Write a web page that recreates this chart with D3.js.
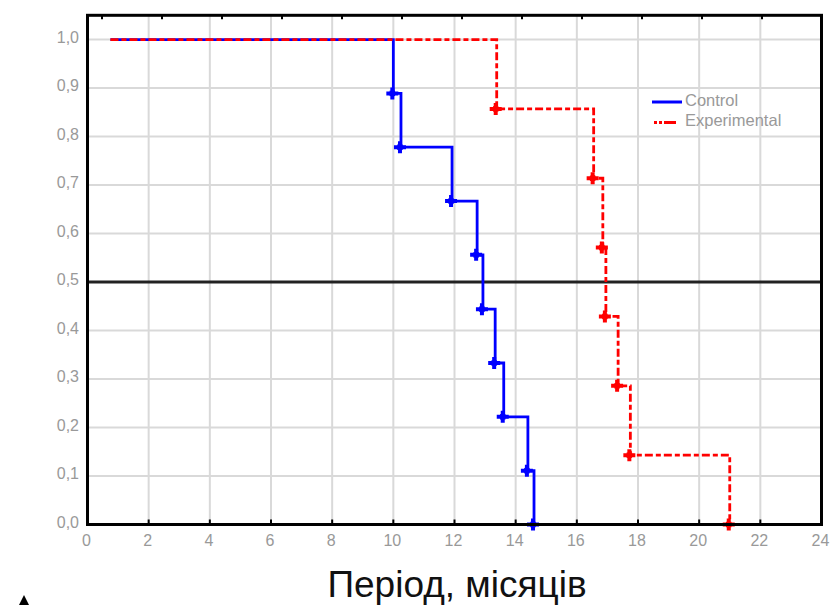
<!DOCTYPE html>
<html>
<head>
<meta charset="utf-8">
<script src="https://cdn.jsdelivr.net/npm/d3@7"></script>
<style>
  html, body { margin: 0; padding: 0; background: #fff; }
  svg { display: block; }
  text { font-family: "Liberation Sans", Arial, sans-serif; }
</style>
</head>
<body>
<script>
// ---- data ----
const seriesNames = ["Control", "Experimental"];
const controlTimes = [0.75, 10.0, 10.25, 11.92, 12.74, 12.93, 13.33, 13.61, 14.4, 14.6];
const controlSurvival = [1.0, 0.889, 0.778, 0.667, 0.556, 0.444, 0.333, 0.222, 0.111, 0.0];
const experimentalTimes = [0.75, 13.38, 16.55, 16.85, 16.95, 17.35, 17.75, 21.0];
const experimentalSurvival = [1.0, 0.857, 0.714, 0.571, 0.429, 0.286, 0.143, 0.0];
const xTickValues = [0, 2, 4, 6, 8, 10, 12, 14, 16, 18, 20, 22, 24];
const yTickValues = [0.0, 0.1, 0.2, 0.3, 0.4, 0.5, 0.6, 0.7, 0.8, 0.9, 1.0];
const medianLevel = 0.5;
const xTitle = "Період, місяців";

// ---- layout ----
const W = 834, H = 605;
const mL = 87.5, mR = 821.5, mT = 15.3, mB = 524.5;

const svg = d3.select("body").append("svg").attr("width", W).attr("height", H);
svg.append("rect").attr("width", W).attr("height", H).attr("fill", "#fff");

const x = d3.scaleLinear().domain([0, 24]).range([mL, mR]);
const y = d3.scaleLinear().domain([0, 1.05]).range([mB, mT]);

// grid
const grid = svg.append("g");
grid.append("g").selectAll("line").data(xTickValues.slice(1, -1)).join("line")
  .attr("x1", d => x(d)).attr("x2", d => x(d))
  .attr("y1", mT).attr("y2", mB)
  .attr("stroke", "#d9d9d9").attr("stroke-width", 2);
grid.append("g").selectAll("line").data(yTickValues.slice(1)).join("line")
  .attr("x1", mL).attr("x2", mR)
  .attr("y1", d => y(d)).attr("y2", d => y(d))
  .attr("stroke", "#d9d9d9").attr("stroke-width", 2);

// median reference line
svg.append("line")
  .attr("x1", mL).attr("x2", mR)
  .attr("y1", y(medianLevel)).attr("y2", y(medianLevel))
  .attr("stroke", "#222").attr("stroke-width", 3);

// step lines
const line = d3.line().x(d => x(d[0])).y(d => y(d[1])).curve(d3.curveStepAfter);
const controlPts = controlTimes.map((t, i) => [t, controlSurvival[i]]);
const expPts = experimentalTimes.map((t, i) => [t, experimentalSurvival[i]]);

svg.append("path").datum(controlPts).attr("d", line)
  .attr("fill", "none").attr("stroke", "#0000ff").attr("stroke-width", 2.8);
svg.append("path").datum(expPts).attr("d", line)
  .attr("fill", "none").attr("stroke", "#ff0000").attr("stroke-width", 2.8)
  .attr("stroke-dasharray", "8,3,5,3");

// markers
const sym = d3.symbol().type(d3.symbolCross).size(80);
const sq = d3.symbol().type(d3.symbolSquare).size(30);
function drawMarkers(pts, color) {
  const g = svg.append("g");
  g.selectAll("path.c").data(pts).join("path").attr("class", "c")
    .attr("d", sym).attr("transform", d => `translate(${x(d[0]) - 1},${y(d[1])})`)
    .attr("fill", color);
  g.selectAll("path.s").data(pts).join("path").attr("class", "s")
    .attr("d", sq).attr("transform", d => `translate(${x(d[0]) - 1},${y(d[1])})`)
    .attr("fill", color);
}
drawMarkers(controlPts.slice(1), "#0000ff");
drawMarkers(expPts.slice(1), "#ff0000");

// frame
svg.append("rect")
  .attr("x", mL).attr("y", mT).attr("width", mR - mL).attr("height", mB - mT)
  .attr("fill", "none").attr("stroke", "#000").attr("stroke-width", 3);

// bottom ticks (inward)
svg.append("g").selectAll("line").data(xTickValues.slice(1, -1)).join("line")
  .attr("x1", d => x(d)).attr("x2", d => x(d))
  .attr("y1", mB).attr("y2", mB - 5)
  .attr("stroke", "#000").attr("stroke-width", 2);
// top ticks (secondary scale)
const xTop = d3.scaleLinear().domain([0, 12]).range([102, 822]);
svg.append("g").selectAll("line").data(d3.range(0, 12)).join("line")
  .attr("x1", d => xTop(d)).attr("x2", d => xTop(d))
  .attr("y1", mT).attr("y2", mT + 4)
  .attr("stroke", "#000").attr("stroke-width", 2);

// tick labels
const fmt = d => d3.format(".1f")(d).replace(".", ",");
svg.append("g").selectAll("text").data(yTickValues).join("text")
  .attr("x", 79).attr("y", d => y(d) + 3)
  .attr("text-anchor", "end").attr("font-size", 16).attr("fill", "#999")
  .text(fmt);
svg.append("g").selectAll("text").data(xTickValues).join("text")
  .attr("x", d => x(d) - 1).attr("y", 546)
  .attr("text-anchor", "middle").attr("font-size", 16).attr("fill", "#999")
  .text(d => d);

// axis title
svg.append("text").attr("x", 457).attr("y", 597)
  .attr("text-anchor", "middle").attr("font-size", 37).attr("fill", "#111")
  .text(xTitle);

// legend
const lg = svg.append("g");
lg.append("line").attr("x1", 652).attr("x2", 682).attr("y1", 102).attr("y2", 102)
  .attr("stroke", "#0000ff").attr("stroke-width", 3);
lg.append("line").attr("x1", 654).attr("x2", 677).attr("y1", 122.5).attr("y2", 122.5)
  .attr("stroke", "#ff0000").attr("stroke-width", 3).attr("stroke-dasharray", "3,2,3,2,12");
lg.append("text").attr("x", 685).attr("y", 106).attr("font-size", 16.5).attr("fill", "#999")
  .text(seriesNames[0]);
lg.append("text").attr("x", 685).attr("y", 126).attr("font-size", 16.5).attr("fill", "#999")
  .text(seriesNames[1]);

// cut-off mark at bottom-left (tip of a panel letter below the frame)
svg.append("path")
  .attr("d", d3.line()([[24, 595], [19, 605], [29, 605]]) + "Z")
  .attr("fill", "#000");
</script>
</body>
</html>
